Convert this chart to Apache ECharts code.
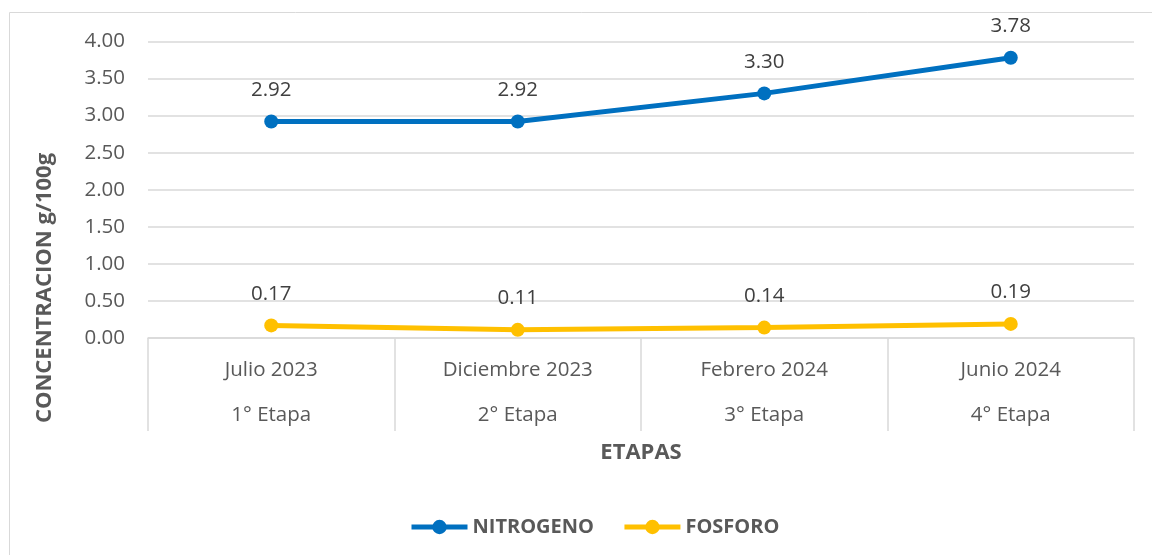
<!DOCTYPE html>
<html>
<head>
<meta charset="utf-8">
<script src="https://cdn.jsdelivr.net/npm/echarts@6/dist/echarts.min.js"></script>
<style>
  html, body { margin: 0; padding: 0; background: #fff; }
  #chart { width: 1152px; height: 555px; }
</style>
</head>
<body>
<div id="chart"></div>
<script>
// meses y etapas
const meses = ["Julio 2023", "Diciembre 2023", "Febrero 2024", "Junio 2024"];
const etapas = ["1° Etapa", "2° Etapa", "3° Etapa", "4° Etapa"];
// concentraciones g/100g
const nitrogeno = [2.92, 2.92, 3.30, 3.78];
const fosforo = [0.17, 0.11, 0.14, 0.19];

const FONT = "Open Sans";
const categorias = meses.map((m, i) => m + "|" + etapas[i]);

const myChart = echarts.init(document.getElementById("chart"));

const option = {
  textStyle: { fontFamily: FONT },
  animation: false,
  grid: { left: 148, right: 18, top: 41.5, bottom: 217 },
  graphic: [
    {
      type: "rect",
      shape: { x: 9.5, y: 12.5, width: 1160, height: 560 },
      style: { fill: "none", stroke: "#d9d9d9", lineWidth: 1 },
      silent: true
    },
    {
      type: "text",
      x: 45, y: 288,
      rotation: Math.PI / 2,
      style: {
        text: "CONCENTRACION g/100g",
        font: "bold 22px " + FONT,
        fill: "#595959",
        align: "center",
        verticalAlign: "middle"
      }
    }
  ],
  legend: {
    bottom: 13,
    left: 404,
    itemWidth: 56,
    itemHeight: 18,
    itemGap: 28,
    lineStyle: { width: 5 },
    textStyle: { color: "#595959", fontSize: 20, fontWeight: "bold", fontFamily: FONT },
    data: ["NITROGENO", "FOSFORO"]
  },
  xAxis: {
    type: "category",
    data: categorias,
    name: "ETAPAS",
    nameLocation: "middle",
    nameGap: 104,
    nameTextStyle: { color: "#595959", fontSize: 22, fontWeight: "bold" },
    axisLine: { lineStyle: { color: "#d9d9d9", width: 1.5 } },
    axisTick: { show: true, length: 93, lineStyle: { color: "#d9d9d9", width: 1.5 } },
    axisLabel: {
      margin: 10,
      interval: 0,
      formatter: v => {
        const p = v.split("|");
        return "{a|" + p[0] + "}\n{a|" + p[1] + "}";
      },
      rich: {
        a: { color: "#595959", fontSize: 20.5, lineHeight: 45, fontFamily: FONT }
      }
    }
  },
  yAxis: {
    type: "value",
    min: 0,
    max: 4,
    interval: 0.5,
    axisLine: { show: false },
    axisTick: { show: false },
    axisLabel: {
      color: "#595959",
      fontSize: 20.5,
      margin: 23,
      formatter: v => v.toFixed(2)
    },
    splitLine: { lineStyle: { color: "#d9d9d9", width: 1.5 } }
  },
  series: [
    {
      name: "NITROGENO",
      type: "line",
      data: nitrogeno,
      symbol: "circle",
      symbolSize: 14,
      itemStyle: { color: "#0070C0" },
      lineStyle: { color: "#0070C0", width: 5 },
      label: {
        show: true,
        position: "top",
        distance: 14,
        color: "#404040",
        fontSize: 20.5,
        formatter: p => p.value.toFixed(2)
      }
    },
    {
      name: "FOSFORO",
      type: "line",
      data: fosforo,
      symbol: "circle",
      symbolSize: 14,
      itemStyle: { color: "#FFC000" },
      lineStyle: { color: "#FFC000", width: 5 },
      label: {
        show: true,
        position: "top",
        distance: 14,
        color: "#404040",
        fontSize: 20.5,
        formatter: p => p.value.toFixed(2)
      }
    }
  ]
};

myChart.setOption(option);
window.addEventListener("resize", () => myChart.resize());
</script>
</body>
</html>
